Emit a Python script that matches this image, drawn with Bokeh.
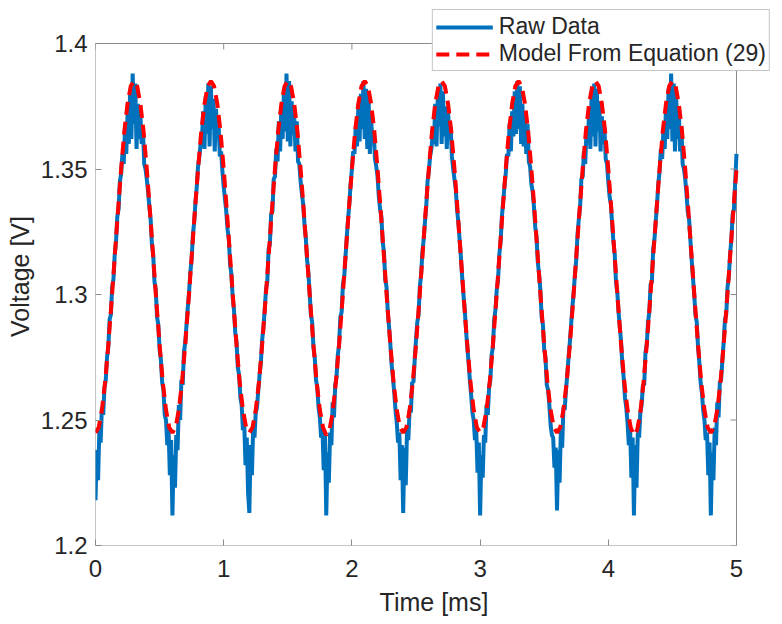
import numpy as np
from bokeh.plotting import figure
from bokeh.models import FixedTicker, Legend, LegendItem, Range1d
from bokeh.embed import file_html
from bokeh.resources import INLINE

# ---- data ----
raw_step = 0.01      # ms between raw samples
model_step = 0.025   # ms between model samples

raw_v = [
    1.218, 1.238, 1.226, 1.246, 1.241, 1.255, 1.252, 1.263, 1.266, 1.275,
    1.279, 1.290, 1.292, 1.303, 1.306, 1.316, 1.321, 1.331, 1.334, 1.345,
    1.348, 1.356, 1.352, 1.366, 1.356, 1.372, 1.360, 1.381, 1.362, 1.388,
    1.368, 1.384, 1.358, 1.376, 1.362, 1.372, 1.360, 1.366, 1.352, 1.350,
    1.346, 1.341, 1.335, 1.330, 1.320, 1.316, 1.305, 1.302, 1.291, 1.288,
    1.278, 1.274, 1.265, 1.262, 1.252, 1.250, 1.240, 1.246, 1.228, 1.242,
    1.212, 1.236, 1.223, 1.244, 1.238, 1.256, 1.250, 1.266, 1.264, 1.277,
    1.281, 1.288, 1.295, 1.301, 1.309, 1.314, 1.324, 1.329, 1.337, 1.343,
    1.351, 1.355, 1.360, 1.362, 1.373, 1.358, 1.379, 1.364, 1.384, 1.359,
    1.383, 1.366, 1.378, 1.357, 1.374, 1.363, 1.368, 1.355, 1.357, 1.349,
    1.343, 1.338, 1.333, 1.326, 1.322, 1.312, 1.308, 1.299, 1.294, 1.285,
    1.281, 1.271, 1.268, 1.259, 1.256, 1.246, 1.249, 1.232, 1.243, 1.221,
    1.213, 1.240, 1.228, 1.247, 1.243, 1.253, 1.255, 1.262, 1.268, 1.273,
    1.282, 1.287, 1.294, 1.302, 1.305, 1.318, 1.320, 1.332, 1.333, 1.346,
    1.347, 1.358, 1.353, 1.369, 1.357, 1.375, 1.362, 1.382, 1.365, 1.388,
    1.361, 1.385, 1.359, 1.377, 1.364, 1.371, 1.357, 1.369, 1.353, 1.352,
    1.345, 1.340, 1.336, 1.328, 1.323, 1.314, 1.309, 1.301, 1.292, 1.289,
    1.279, 1.275, 1.266, 1.263, 1.255, 1.251, 1.243, 1.247, 1.230, 1.244,
    1.212, 1.237, 1.225, 1.245, 1.240, 1.257, 1.251, 1.264, 1.267, 1.276,
    1.280, 1.291, 1.293, 1.304, 1.307, 1.315, 1.323, 1.330, 1.336, 1.344,
    1.350, 1.357, 1.356, 1.367, 1.359, 1.374, 1.361, 1.380, 1.366, 1.385,
    1.362, 1.382, 1.358, 1.379, 1.356, 1.370, 1.361, 1.365, 1.354, 1.351,
    1.347, 1.339, 1.334, 1.331, 1.321, 1.317, 1.306, 1.303, 1.293, 1.287,
    1.280, 1.272, 1.267, 1.261, 1.254, 1.249, 1.241, 1.245, 1.226, 1.240,
    1.213, 1.239, 1.224, 1.246, 1.242, 1.254, 1.253, 1.265, 1.265, 1.274,
    1.282, 1.289, 1.292, 1.303, 1.308, 1.317, 1.322, 1.329, 1.335, 1.345,
    1.349, 1.355, 1.358, 1.364, 1.360, 1.376, 1.359, 1.379, 1.367, 1.384,
    1.360, 1.381, 1.363, 1.375, 1.358, 1.373, 1.362, 1.367, 1.355, 1.350,
    1.346, 1.342, 1.334, 1.329, 1.322, 1.315, 1.307, 1.300, 1.294, 1.286,
    1.279, 1.273, 1.266, 1.260, 1.253, 1.250, 1.242, 1.246, 1.229, 1.241,
    1.212, 1.236, 1.227, 1.244, 1.241, 1.256, 1.252, 1.263, 1.266, 1.276,
    1.279, 1.290, 1.294, 1.302, 1.306, 1.316, 1.321, 1.331, 1.337, 1.343,
    1.348, 1.356, 1.355, 1.368, 1.357, 1.373, 1.363, 1.381, 1.364, 1.385,
    1.366, 1.383, 1.360, 1.376, 1.359, 1.372, 1.356, 1.368, 1.353, 1.351,
    1.344, 1.341, 1.335, 1.327, 1.323, 1.313, 1.308, 1.302, 1.291, 1.288,
    1.278, 1.275, 1.264, 1.262, 1.256, 1.248, 1.244, 1.243, 1.231, 1.239,
    1.214, 1.238, 1.225, 1.246, 1.239, 1.255, 1.254, 1.262, 1.268, 1.275,
    1.281, 1.288, 1.295, 1.301, 1.308, 1.314, 1.324, 1.330, 1.335, 1.346,
    1.347, 1.357, 1.352, 1.365, 1.361, 1.372, 1.358, 1.380, 1.363, 1.384,
    1.359, 1.382, 1.365, 1.377, 1.357, 1.371, 1.360, 1.366, 1.354, 1.352,
    1.345, 1.339, 1.336, 1.328, 1.321, 1.316, 1.305, 1.301, 1.293, 1.287,
    1.281, 1.272, 1.267, 1.259, 1.255, 1.249, 1.240, 1.247, 1.227, 1.243,
    1.212, 1.240, 1.223, 1.245, 1.243, 1.253, 1.256, 1.264, 1.264, 1.277,
    1.280, 1.289, 1.293, 1.304, 1.305, 1.318, 1.322, 1.329, 1.336, 1.344,
    1.349, 1.358, 1.354, 1.366, 1.358, 1.375, 1.362, 1.382, 1.366, 1.388,
    1.361, 1.384, 1.357, 1.378, 1.362, 1.373, 1.357, 1.367, 1.352, 1.350,
    1.346, 1.340, 1.333, 1.330, 1.322, 1.314, 1.307, 1.300, 1.292, 1.289,
    1.279, 1.273, 1.265, 1.261, 1.254, 1.250, 1.242, 1.245, 1.228, 1.241,
    1.212, 1.237, 1.226, 1.247, 1.240, 1.257, 1.251, 1.265, 1.266, 1.274,
    1.281, 1.290, 1.292, 1.303, 1.307, 1.316, 1.322, 1.332, 1.334, 1.345,
    1.356,
]

model_v = [
    1.245, 1.247, 1.254, 1.265, 1.280, 1.297, 1.315, 1.333, 1.350, 1.365, 1.376, 1.383,
    1.385, 1.383, 1.376, 1.365, 1.350, 1.333, 1.315, 1.297, 1.280, 1.265, 1.254, 1.247,
    1.245, 1.247, 1.254, 1.265, 1.280, 1.297, 1.315, 1.333, 1.350, 1.365, 1.376, 1.383,
    1.385, 1.383, 1.376, 1.365, 1.350, 1.333, 1.315, 1.297, 1.280, 1.265, 1.254, 1.247,
    1.245, 1.247, 1.254, 1.265, 1.280, 1.297, 1.315, 1.333, 1.350, 1.365, 1.376, 1.383,
    1.385, 1.383, 1.376, 1.365, 1.350, 1.333, 1.315, 1.297, 1.280, 1.265, 1.254, 1.247,
    1.244, 1.246, 1.253, 1.265, 1.280, 1.297, 1.315, 1.333, 1.350, 1.365, 1.376, 1.383,
    1.385, 1.383, 1.376, 1.365, 1.350, 1.333, 1.315, 1.297, 1.280, 1.265, 1.254, 1.247,
    1.245, 1.247, 1.254, 1.265, 1.280, 1.297, 1.315, 1.333, 1.350, 1.365, 1.376, 1.383,
    1.385, 1.383, 1.376, 1.365, 1.350, 1.333, 1.315, 1.297, 1.280, 1.265, 1.254, 1.247,
    1.245, 1.247, 1.254, 1.265, 1.280, 1.297, 1.315, 1.333, 1.350, 1.365, 1.376, 1.383,
    1.385, 1.383, 1.376, 1.365, 1.350, 1.333, 1.315, 1.297, 1.280, 1.265, 1.254, 1.247,
    1.245, 1.247, 1.254, 1.265, 1.280, 1.297, 1.315, 1.333, 1.350, 1.365, 1.376, 1.383,
    1.385, 1.383, 1.376, 1.365, 1.350, 1.333, 1.315, 1.297, 1.280, 1.265, 1.254, 1.247,
    1.244, 1.246, 1.253, 1.265, 1.280, 1.297, 1.315, 1.333, 1.350, 1.365, 1.376, 1.383,
    1.385, 1.383, 1.376, 1.365, 1.350, 1.333, 1.315, 1.297, 1.280, 1.265, 1.254, 1.247,
    1.245, 1.247, 1.254, 1.265, 1.280, 1.297, 1.315, 1.333, 1.350,
]

x_ticks = [0, 1, 2, 3, 4, 5]
y_ticks = [1.2, 1.25, 1.3, 1.35, 1.4]
y_tick_labels = ["1.2", "1.25", "1.3", "1.35", "1.4"]

raw_t = np.arange(len(raw_v)) * raw_step
model_t = np.arange(len(model_v)) * model_step

FONT = "Liberation Sans"
TXT = "#262626"
AX = "#8a8a8a"

# the plotting frame also covers the legend area (top/right of the axes box),
# so the axes box itself is drawn as a quad on x/y tick limits
box_w, box_h = 641, 502          # pixel size of the axes box
frame_w, frame_h = 677, 538      # frame includes legend strip above/right
x0, x1 = x_ticks[0], x_ticks[-1]
y0, y1 = y_ticks[0], y_ticks[-1]
x_end = x0 + (x1 - x0) * frame_w / box_w
y_end = y0 + (y1 - y0) * frame_h / box_h

p = figure(frame_width=frame_w, frame_height=frame_h,
           x_range=Range1d(x0, x_end), y_range=Range1d(y0, y_end),
           output_backend="svg", toolbar_location=None,
           min_border_left=95, min_border_right=0, min_border_top=7, min_border_bottom=0)
p.background_fill_color = "white"
p.border_fill_color = "white"
p.outline_line_color = None
p.xgrid.visible = False
p.ygrid.visible = False

# axes box
p.quad(left=x0, right=x1, bottom=y0, top=y1, fill_color=None, line_color=AX, line_width=1)

r_raw = p.line(raw_t, raw_v, line_color="#0072BD", line_width=4)
r_model = p.line(model_t, model_v, line_color="#FF0000", line_width=4, line_dash="13 7")

# inward ticks on top and right sides of the box
tick_dx = (x1 - x0) * 6 / box_w
tick_dy = (y1 - y0) * 6 / box_h
p.segment(x0=x_ticks, y0=[y1] * len(x_ticks), x1=x_ticks, y1=[y1 - tick_dy] * len(x_ticks),
          line_color=AX, line_width=1)
p.segment(x0=[x1] * len(y_ticks), y0=y_ticks, x1=[x1 - tick_dx] * len(y_ticks), y1=y_ticks,
          line_color=AX, line_width=1)

p.xaxis.ticker = FixedTicker(ticks=x_ticks)
p.yaxis.ticker = FixedTicker(ticks=y_ticks)
p.yaxis.major_label_overrides = {v: s for v, s in zip(y_ticks, y_tick_labels)}

for ax in [p.xaxis[0], p.yaxis[0]]:
    ax.axis_line_color = None
    ax.major_tick_line_color = AX
    ax.major_tick_in = 6
    ax.major_tick_out = 0
    ax.minor_tick_line_color = None
    ax.major_label_text_font = FONT
    ax.major_label_text_font_size = "24px"
    ax.major_label_text_color = TXT
    ax.major_label_text_line_height = 1.0
    ax.axis_label_text_font = FONT
    ax.axis_label_text_font_size = "25px"
    ax.axis_label_text_font_style = "normal"
    ax.axis_label_text_color = TXT
    ax.axis_label_text_line_height = 1.0

p.xaxis.axis_label = "Time [ms]"
p.xaxis.major_label_standoff = 14
p.xaxis.axis_label_standoff = 8
p.yaxis.axis_label = "Voltage [V]"
p.yaxis.major_label_standoff = 8
p.yaxis.axis_label_standoff = 4

legend = Legend(items=[LegendItem(label="Raw Data", renderers=[r_raw]),
                       LegendItem(label="Model From Equation (29)", renderers=[r_model])],
                location="top_right")
legend.label_text_font = FONT
legend.label_text_font_size = "23px"
legend.label_text_color = TXT
legend.label_text_line_height = 1.0
legend.glyph_width = 57
legend.glyph_height = 24
legend.label_height = 24
legend.label_standoff = 6
legend.padding = 3
legend.spacing = 0
legend.margin = 2
legend.border_line_color = AX
legend.border_line_width = 1
legend.background_fill_color = "white"
legend.background_fill_alpha = 1.0
p.add_layout(legend)

open("out.html", "w").write(file_html(p, INLINE))
